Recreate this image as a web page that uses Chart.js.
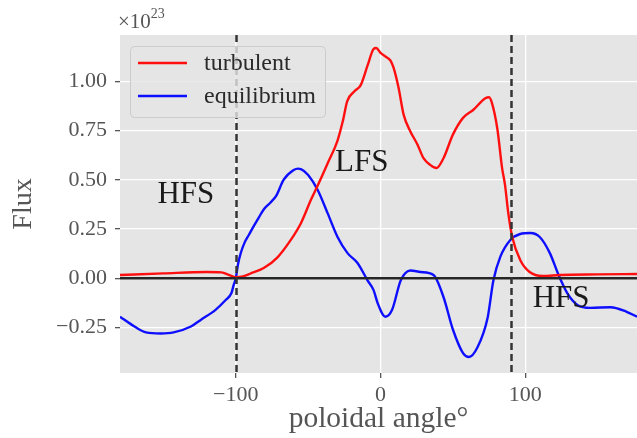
<!DOCTYPE html>
<html>
<head>
<meta charset="utf-8">
<script src="https://cdn.jsdelivr.net/npm/chart.js@4/dist/chart.umd.min.js"></script>
<style>
  html, body { margin: 0; padding: 0; background: #fff; }
</style>
</head>
<body>
<canvas id="fluxChart" width="637" height="438"></canvas>
<script>
// poloidal angle (deg) and flux (units of 1e23) for each curve
const turbAngle = [-180, -150, -120, -110, -104, -100, -95, -89.6, -80.7, -71, -62, -55, -48, -43.5, -36.5, -29.7, -26, -23, -18, -13.8, -9, -4.8, -3, 0, 4.8, 7, 9, 12.4, 16, 20.7, 25.5, 29.7, 34.5, 38.6, 43.5, 50, 57, 64, 72.4, 75, 77, 80.7, 84, 86, 88.3, 91, 96.5, 103, 112, 124, 150, 177.2];
const turbFlux  = [0.017, 0.025, 0.032, 0.03, 0.015, 0.006, 0.01, 0.025, 0.052, 0.108, 0.195, 0.28, 0.40, 0.47, 0.585, 0.70, 0.80, 0.90, 0.95, 0.98, 1.08, 1.165, 1.17, 1.145, 1.12, 1.105, 1.07, 0.97, 0.83, 0.745, 0.68, 0.61, 0.575, 0.56, 0.61, 0.73, 0.815, 0.855, 0.915, 0.92, 0.89, 0.76, 0.56, 0.475, 0.33, 0.21, 0.093, 0.032, 0.012, 0.017, 0.02, 0.022];

const eqAngle = [-180, -170, -162, -152, -143, -131, -124, -114, -107, -103, -101.5, -100, -98.5, -96.5, -94, -91, -88, -84, -80.7, -76, -72, -67, -60, -57, -55, -50, -43.5, -36.5, -29.7, -22.8, -15.9, -9, -4.8, -2, 3.4, 8, 14, 20.7, 27.6, 36.6, 43.5, 50, 57, 61, 67, 74, 78, 82.8, 89.7, 96.5, 103.4, 110, 117, 123, 129, 136, 145, 159, 170, 177.2];
const eqFlux  = [-0.195, -0.245, -0.275, -0.28, -0.275, -0.245, -0.21, -0.16, -0.11, -0.075, -0.035, 0, 0.07, 0.13, 0.18, 0.22, 0.26, 0.31, 0.35, 0.385, 0.42, 0.50, 0.55, 0.557, 0.555, 0.525, 0.45, 0.33, 0.21, 0.128, 0.078, -0.01, -0.06, -0.126, -0.195, -0.16, -0.01, 0.04, 0.032, 0.017, -0.095, -0.26, -0.38, -0.40, -0.35, -0.2, -0.01, 0.11, 0.195, 0.225, 0.23, 0.21, 0.128, 0.017, -0.075, -0.135, -0.15, -0.147, -0.17, -0.195];

const xTicks = [-100, 0, 100];
const yTicks = [-0.25, 0, 0.25, 0.5, 0.75, 1.0];
const sepAngles = [-100, 90];
const regionLabels = [
  { text: 'HFS', x: -134.5, y: 0.436 },
  { text: 'LFS', x: -13, y: 0.60 },
  { text: 'HFS', x: 124.8, y: -0.09 }
];

const SERIF = '"Liberation Serif", "DejaVu Serif", serif';
const minus = s => s.replace('-', '\u2212');

function toPoints(xs, ys) {
  return xs.map((x, i) => ({ x: x, y: ys[i] }));
}

// grey axes face
const facePlugin = {
  id: 'face',
  beforeDraw(chart) {
    const { ctx, chartArea: a } = chart;
    ctx.save();
    ctx.fillStyle = '#E5E5E5';
    ctx.fillRect(a.left, a.top, a.right - a.left, a.bottom - a.top);
    ctx.restore();
  }
};

// zero line, separatrix markers, region names, legend and offset text
const overlayPlugin = {
  id: 'overlay',
  afterDatasetsDraw(chart) {
    const { ctx, chartArea: a, scales: { x, y } } = chart;
    ctx.save();
    ctx.beginPath();
    ctx.rect(a.left, a.top, a.right - a.left, a.bottom - a.top);
    ctx.clip();

    ctx.strokeStyle = '#262626';
    ctx.lineWidth = 2.4;
    ctx.beginPath();
    ctx.moveTo(a.left, y.getPixelForValue(0));
    ctx.lineTo(a.right, y.getPixelForValue(0));
    ctx.stroke();

    ctx.strokeStyle = '#333';
    ctx.lineWidth = 2.5;
    ctx.setLineDash([7, 4]);
    sepAngles.forEach(v => {
      const px = Math.round(x.getPixelForValue(v)) + 0.5;
      ctx.beginPath();
      ctx.moveTo(px, a.top);
      ctx.lineTo(px, a.bottom);
      ctx.stroke();
    });
    ctx.setLineDash([]);

    ctx.fillStyle = '#1a1a1a';
    ctx.font = '31px ' + SERIF;
    ctx.textAlign = 'center';
    ctx.textBaseline = 'alphabetic';
    regionLabels.forEach(r => {
      ctx.fillText(r.text, x.getPixelForValue(r.x), y.getPixelForValue(r.y) + 10.5);
    });
    ctx.restore();

    // legend
    ctx.save();
    ctx.font = '24px ' + SERIF;
    const sets = chart.data.datasets;
    const textW = Math.max(...sets.map(d => ctx.measureText(d.label).width));
    const bx = 130, by = 46, bh = 71;
    const bw = 204 - bx + textW + 9;
    ctx.fillStyle = 'rgba(229,229,229,0.8)';
    ctx.strokeStyle = '#CCCCCC';
    ctx.lineWidth = 1;
    ctx.beginPath();
    ctx.roundRect(bx + 0.5, by + 0.5, bw, bh, 4);
    ctx.fill();
    ctx.stroke();
    sets.forEach((d, i) => {
      const ly = 63 + i * 33;
      ctx.strokeStyle = d.borderColor;
      ctx.lineWidth = 2.4;
      ctx.beginPath();
      ctx.moveTo(138, ly);
      ctx.lineTo(187, ly);
      ctx.stroke();
      ctx.fillStyle = '#2a2a2a';
      ctx.textAlign = 'left';
      ctx.textBaseline = 'middle';
      ctx.fillText(d.label, 204, ly + 1);
    });

    // exponent above the y axis
    ctx.fillStyle = '#555';
    ctx.textBaseline = 'alphabetic';
    ctx.font = '21px ' + SERIF;
    ctx.fillText('\u00d710', 118, 28);
    const w = ctx.measureText('\u00d710').width;
    ctx.font = '14px ' + SERIF;
    ctx.fillText('23', 118 + w, 18);
    ctx.restore();
  }
};

new Chart(document.getElementById('fluxChart'), {
  type: 'line',
  data: {
    datasets: [
      {
        label: 'turbulent',
        data: toPoints(turbAngle, turbFlux),
        borderColor: '#FF0F0F',
        borderWidth: 2.4,
        pointRadius: 0,
        cubicInterpolationMode: 'monotone'
      },
      {
        label: 'equilibrium',
        data: toPoints(eqAngle, eqFlux),
        borderColor: '#0F0FFF',
        borderWidth: 2.4,
        pointRadius: 0,
        cubicInterpolationMode: 'monotone'
      }
    ]
  },
  options: {
    responsive: false,
    animation: false,
    devicePixelRatio: 1,
    layout: { padding: { top: 35, left: 0, right: 0, bottom: 0 } },
    plugins: {
      legend: { display: false },
      tooltip: { enabled: false }
    },
    scales: {
      x: {
        type: 'linear',
        min: -180,
        max: 177.2,
        afterBuildTicks: s => { s.ticks = xTicks.map(v => ({ value: v })); },
        afterFit: s => { s.height = 65; },
        border: { display: false },
        grid: { color: '#FFFFFF', lineWidth: 1.3, tickColor: '#555', tickLength: 5 },
        ticks: {
          padding: 4,
          color: '#555',
          font: { family: SERIF, size: 22 },
          callback: v => minus(String(v))
        },
        title: {
          display: true,
          text: 'poloidal angle\u00b0',
          color: '#555',
          font: { family: SERIF, size: 29.5 },
          padding: { top: 0, bottom: 1 }
        }
      },
      y: {
        min: -0.481,
        max: 1.236,
        afterBuildTicks: s => { s.ticks = yTicks.map(v => ({ value: v })); },
        afterFit: s => { s.width = 120; },
        border: { display: false },
        grid: { color: '#FFFFFF', lineWidth: 1.3, tickColor: '#555', tickLength: 5 },
        ticks: {
          padding: 8,
          color: '#555',
          font: { family: SERIF, size: 22 },
          callback: v => minus(v.toFixed(2))
        },
        title: {
          display: true,
          text: 'Flux',
          color: '#555',
          font: { family: SERIF, size: 28 },
          padding: { top: 7, bottom: 0 }
        }
      }
    }
  },
  plugins: [facePlugin, overlayPlugin]
});
</script>
</body>
</html>
